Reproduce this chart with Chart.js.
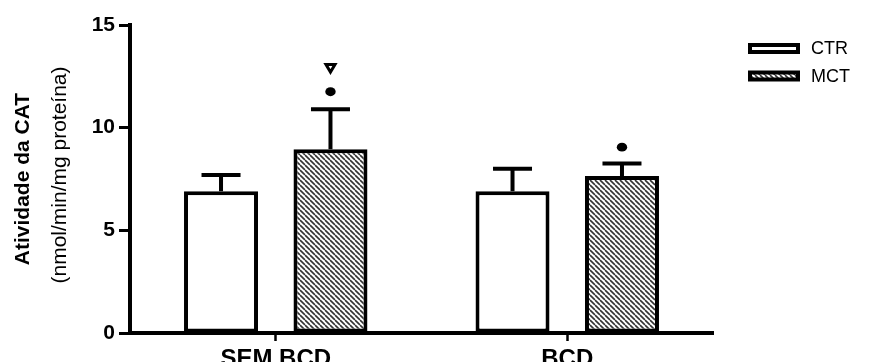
<!DOCTYPE html>
<html><head><meta charset="utf-8">
<script src="https://cdn.jsdelivr.net/npm/chart.js@4.4.1/dist/chart.umd.min.js"></script>
<style>html,body{margin:0;padding:0;background:#fff;} canvas{display:block;}</style>
</head><body>
<canvas id="c" width="877" height="362"></canvas>
<script>
// ---- data ----
const categories = ['SEM BCD', 'BCD'];
const seriesNames = ['CTR', 'MCT'];
const ctrMeans = [6.9, 6.9];
const ctrErrors = [0.8, 1.1];
const mctMeans = [8.95, 7.65];
const mctErrors = [1.95, 0.6];
const mctDotMarks = [11.75, 9.05];
const mctTriangleMarks = [12.9, null];
const yTicks = [0, 5, 10, 15];
const yTitle = 'Atividade da CAT';
const yUnit = '(nmol/min/mg proteína)';

const FONT = 'Liberation Sans, Arial, Helvetica, sans-serif';
Chart.defaults.font.family = FONT;
Chart.defaults.color = '#000';

const canvas = document.getElementById('c');
const ctx0 = canvas.getContext('2d');

function makeHatch() {
  const p = document.createElement('canvas');
  p.width = 5; p.height = 5;
  const g = p.getContext('2d');
  g.fillStyle = '#fff'; g.fillRect(0, 0, 5, 5);
  g.strokeStyle = '#333'; g.lineWidth = 1.6;
  for (const k of [-5, 0, 5]) { g.beginPath(); g.moveTo(k, 0); g.lineTo(k + 5, 5); g.stroke(); }
  return ctx0.createPattern(p, 'repeat');
}
const hatch = makeHatch();

const overlay = {
  id: 'overlay',
  afterDatasetsDraw(chart) {
    const ctx = chart.ctx, y = chart.scales.y;
    const means = [ctrMeans, mctMeans], errs = [ctrErrors, mctErrors];
    ctx.save();
    ctx.strokeStyle = '#000'; ctx.fillStyle = '#000'; ctx.lineWidth = 4; ctx.lineCap = 'butt';
    for (let d = 0; d < 2; d++) {
      chart.getDatasetMeta(d).data.forEach((bar, j) => {
        const yt = y.getPixelForValue(means[d][j] + errs[d][j]);
        ctx.beginPath();
        ctx.moveTo(bar.x, bar.y); ctx.lineTo(bar.x, yt);
        ctx.moveTo(bar.x - 19.5, yt); ctx.lineTo(bar.x + 19.5, yt);
        ctx.stroke();
      });
    }
    chart.getDatasetMeta(1).data.forEach((bar, j) => {
      if (mctDotMarks[j] != null) {
        const cy = y.getPixelForValue(mctDotMarks[j]);
        ctx.beginPath(); ctx.ellipse(bar.x, cy, 5.2, 4.4, 0, 0, Math.PI * 2); ctx.fill();
      }
      if (mctTriangleMarks[j] != null) {
        const cy = y.getPixelForValue(mctTriangleMarks[j]);
        ctx.beginPath();
        ctx.moveTo(bar.x - 4.5, cy - 3.5); ctx.lineTo(bar.x + 4.5, cy - 3.5); ctx.lineTo(bar.x, cy + 4);
        ctx.closePath(); ctx.lineWidth = 3; ctx.lineJoin = 'miter'; ctx.stroke();
      }
    });
    ctx.restore();
  },
  afterDraw(chart) {
    const ctx = chart.ctx, a = chart.chartArea;
    ctx.save();
    // second line of the y title (regular weight)
    ctx.translate(60, (a.top + a.bottom) / 2 - 4);
    ctx.rotate(-Math.PI / 2);
    ctx.font = '21px ' + FONT; ctx.fillStyle = '#000';
    ctx.textAlign = 'center'; ctx.textBaseline = 'middle';
    ctx.fillText(yUnit, 0, 0);
    ctx.restore();
    // legend
    ctx.save();
    const rows = [48.5, 76];
    chart.data.datasets.forEach((ds, i) => {
      const cy = rows[i];
      ctx.fillStyle = ds.backgroundColor;
      ctx.fillRect(750, cy - 3.5, 48, 7);
      ctx.strokeStyle = '#000'; ctx.lineWidth = 4;
      ctx.strokeRect(750, cy - 3.5, 48, 7);
      ctx.fillStyle = '#000'; ctx.font = '18px ' + FONT;
      ctx.textAlign = 'left'; ctx.textBaseline = 'middle';
      ctx.fillText(ds.label, 811, cy + 1);
    });
    ctx.restore();
  }
};

new Chart(canvas, {
  type: 'bar',
  data: {
    labels: categories,
    datasets: [
      { label: seriesNames[0], data: ctrMeans, backgroundColor: '#fff', borderColor: '#000', borderWidth: 4, borderSkipped: false },
      { label: seriesNames[1], data: mctMeans, backgroundColor: hatch, borderColor: '#000', borderWidth: 4, borderSkipped: false }
    ]
  },
  options: {
    responsive: false,
    animation: false,
    events: [],
    layout: { padding: { left: 0, right: 164, top: 25, bottom: 0 } },
    datasets: { bar: { categoryPercentage: 0.751, barPercentage: 0.676 } },
    plugins: { legend: { display: false }, tooltip: { enabled: false } },
    scales: {
      x: {
        grid: { display: true, offset: false, drawOnChartArea: false, drawTicks: true, tickLength: 8, tickWidth: 2.5, tickColor: '#000' },
        border: { display: true, width: 4, color: '#000' },
        ticks: { font: { size: 24, weight: 'bold' }, padding: 4, color: '#000' },
        afterFit(s) { s.height = 29; }
      },
      y: {
        min: 0, max: 15,
        afterBuildTicks(s) { s.ticks = yTicks.map(v => ({ value: v })); },
        grid: { display: true, drawOnChartArea: false, drawTicks: true, tickLength: 11, tickWidth: 3, tickColor: '#000' },
        border: { display: true, width: 4, color: '#000' },
        ticks: { font: { size: 21, weight: 'bold' }, padding: 4, color: '#000' },
        title: { display: true, text: yTitle, font: { size: 21, weight: 'bold' }, padding: { top: 11, bottom: 0 }, color: '#000' },
        afterFit(s) { s.width = 130; }
      }
    }
  },
  plugins: [overlay]
});
</script>
</body></html>
